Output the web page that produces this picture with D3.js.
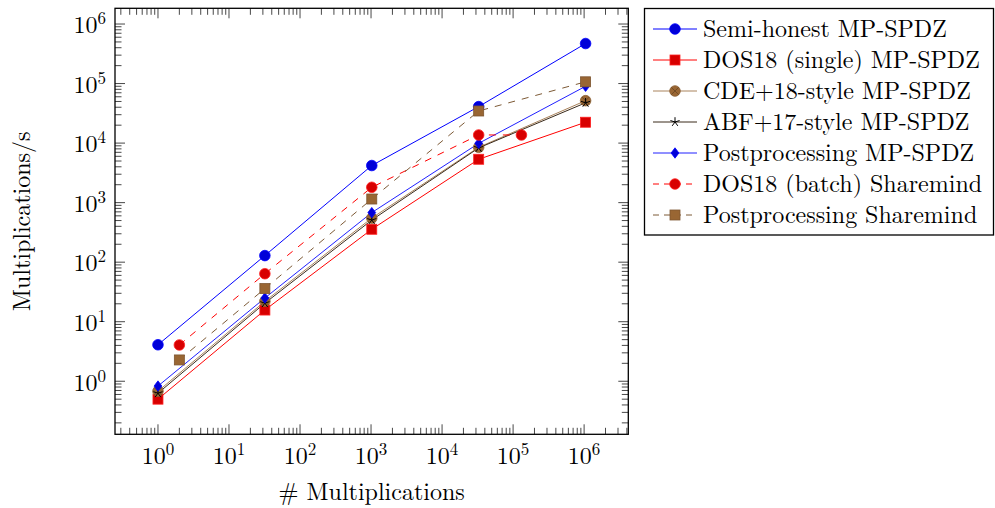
<!DOCTYPE html>
<html>
<head>
<meta charset="utf-8">
<script src="https://cdn.jsdelivr.net/npm/d3@7"></script>
<style>
  html, body { margin: 0; padding: 0; background: #fff; }
  svg { display: block; }
  text { font-family: "Latin Modern Roman", "CMU Serif", "Liberation Serif", serif; fill: #000; }
</style>
</head>
<body>
<svg id="chart" width="995" height="508"></svg>
<script>
// Problem sizes (number of multiplications)
const sizesMain = [1, 32, 1024, 32768, 1048576];
const sizesBatch = [2, 32, 1024, 32768, 131072];
const sizesPostSM = [2, 32, 1024, 32768, 1048576];

// Throughput, multiplications per second
const semiHonestMP = [4.1, 129, 4200, 41000, 470000];
const dos18SingleMP = [0.5, 15.7, 357, 5350, 22400];
const cde18MP = [0.68, 22, 550, 8500, 51600];
const abf17MP = [0.63, 20.5, 510, 8300, 47500];
const postprocMP = [0.83, 25, 680, 9900, 90000];
const dos18BatchSM = [4.07, 64, 1810, 13700, 13700];
const postprocSM = [2.28, 36, 1150, 34600, 107000];

const seriesNames = [
  "Semi-honest MP-SPDZ",
  "DOS18 (single) MP-SPDZ",
  "CDE+18-style MP-SPDZ",
  "ABF+17-style MP-SPDZ",
  "Postprocessing MP-SPDZ",
  "DOS18 (batch) Sharemind",
  "Postprocessing Sharemind"
];

const xLabel = "# Multiplications";
const yLabel = "Multiplications/s";
const xTickExps = [0, 1, 2, 3, 4, 5, 6];
const yTickExps = [0, 1, 2, 3, 4, 5, 6];

const series = [
  { name: seriesNames[0], xs: sizesMain, ys: semiHonestMP, line: "#0000ff", fill: "#0000d8", edge: "#0000ff", mark: "circle", dash: null },
  { name: seriesNames[1], xs: sizesMain, ys: dos18SingleMP, line: "#ff0000", fill: "#d80000", edge: "#ff2020", mark: "square", dash: null },
  { name: seriesNames[2], xs: sizesMain, ys: cde18MP, line: "#a9835c", fill: "#996633", edge: "#8a6034", mark: "otimes", dash: null },
  { name: seriesNames[3], xs: sizesMain, ys: abf17MP, line: "#3a2a1a", fill: "none", edge: "#000000", mark: "star", dash: null },
  { name: seriesNames[4], xs: sizesMain, ys: postprocMP, line: "#2020ff", fill: "#0000d8", edge: "#0000ff", mark: "diamond", dash: null },
  { name: seriesNames[5], xs: sizesBatch, ys: dos18BatchSM, line: "#ff0000", fill: "#d80000", edge: "#ff2020", mark: "circle", dash: "7,7" },
  { name: seriesNames[6], xs: sizesPostSM, ys: postprocSM, line: "#7d5a36", fill: "#996633", edge: "#7d5530", mark: "square", dash: "7,7" }
];

const svg = d3.select("#chart");

const plot = { left: 115, right: 628.3, top: 8.3, bottom: 434.3 };

const x = d3.scaleLog()
  .domain([Math.pow(10, -0.605), Math.pow(10, 6.622)])
  .range([plot.left, plot.right]);
const y = d3.scaleLog()
  .domain([Math.pow(10, -0.891), Math.pow(10, 6.264)])
  .range([plot.bottom, plot.top]);

const majorLen = 10, minorLen = 6.5;
const isMajor = v => Math.abs(Math.log10(v) - Math.round(Math.log10(v))) < 1e-9;

// Tick marks on all four sides, pointing inwards
const tickG = svg.append("g").attr("stroke", "#333").attr("stroke-width", 0.9);
x.ticks().forEach(v => {
  const px = x(v);
  if (px <= plot.left + 0.5 || px >= plot.right - 0.5) return;
  const len = isMajor(v) ? majorLen : minorLen;
  tickG.append("line").attr("x1", px).attr("x2", px).attr("y1", plot.bottom).attr("y2", plot.bottom - len);
  tickG.append("line").attr("x1", px).attr("x2", px).attr("y1", plot.top).attr("y2", plot.top + len);
});
y.ticks().forEach(v => {
  const py = y(v);
  if (py <= plot.top + 0.5 || py >= plot.bottom - 0.5) return;
  const len = isMajor(v) ? majorLen : minorLen;
  tickG.append("line").attr("y1", py).attr("y2", py).attr("x1", plot.left).attr("x2", plot.left + len);
  tickG.append("line").attr("y1", py).attr("y2", py).attr("x1", plot.right).attr("x2", plot.right - len);
});

// Tick labels as powers of ten
function powerLabel(sel, exp) {
  sel.append("tspan").text("10");
  sel.append("tspan").attr("dy", -9).attr("font-size", 17).text(exp);
}
xTickExps.forEach(e => {
  const t = svg.append("text")
    .attr("x", x(Math.pow(10, e)))
    .attr("y", 464)
    .attr("text-anchor", "middle")
    .attr("font-size", 24);
  powerLabel(t, e);
});
yTickExps.forEach(e => {
  const t = svg.append("text")
    .attr("x", 106)
    .attr("y", y(Math.pow(10, e)) + 9.3)
    .attr("text-anchor", "end")
    .attr("font-size", 24);
  powerLabel(t, e);
});

// Axis titles
svg.append("text")
  .attr("x", (plot.left + plot.right) / 2)
  .attr("y", 500)
  .attr("text-anchor", "middle")
  .attr("font-size", 24)
  .text(xLabel);
svg.append("text")
  .attr("transform", `translate(30,${(plot.top + plot.bottom) / 2}) rotate(-90)`)
  .attr("text-anchor", "middle")
  .attr("font-size", 24)
  .text(yLabel);

// Marker shapes
function drawMark(g, s, cx, cy) {
  const r = 5.3;
  if (s.mark === "circle") {
    g.append("circle").attr("cx", cx).attr("cy", cy).attr("r", r)
      .attr("fill", s.fill).attr("stroke", s.edge).attr("stroke-width", 0.8);
  } else if (s.mark === "square") {
    g.append("rect").attr("x", cx - 5).attr("y", cy - 5).attr("width", 10).attr("height", 10)
      .attr("fill", s.fill).attr("stroke", s.edge).attr("stroke-width", 0.8);
  } else if (s.mark === "otimes") {
    g.append("circle").attr("cx", cx).attr("cy", cy).attr("r", r)
      .attr("fill", s.fill).attr("stroke", s.edge).attr("stroke-width", 0.8);
    const d = r * 0.7071;
    g.append("path")
      .attr("d", `M${cx - d},${cy - d}L${cx + d},${cy + d}M${cx - d},${cy + d}L${cx + d},${cy - d}`)
      .attr("stroke", "#6a4522").attr("stroke-width", 0.8).attr("fill", "none");
  } else if (s.mark === "star") {
    let d = "";
    for (let i = 0; i < 5; i++) {
      const a = -Math.PI / 2 + i * 2 * Math.PI / 5;
      d += `M${cx},${cy}L${cx + 4.8 * Math.cos(a)},${cy + 4.8 * Math.sin(a)}`;
    }
    g.append("path").attr("d", d).attr("stroke", s.edge).attr("stroke-width", 1).attr("fill", "none");
  } else if (s.mark === "diamond") {
    g.append("path")
      .attr("d", `M${cx},${cy - 5.2}L${cx + 3.9},${cy}L${cx},${cy + 5.2}L${cx - 3.9},${cy}Z`)
      .attr("fill", s.fill).attr("stroke", s.edge).attr("stroke-width", 0.8);
  }
}

// All series lines first, then all markers on top
const line = d3.line().x(d => x(d[0])).y(d => y(d[1]));
const linesG = svg.append("g");
const marksG = svg.append("g");
series.forEach(s => {
  const pts = s.xs.map((v, i) => [v, s.ys[i]]);
  linesG.append("path").datum(pts).attr("d", line)
    .attr("fill", "none").attr("stroke", s.line).attr("stroke-width", 1)
    .attr("stroke-dasharray", s.dash);
});
series.forEach(s => {
  s.xs.forEach((v, i) => drawMark(marksG, s, x(v), y(s.ys[i])));
});

// Axis frame
svg.append("rect")
  .attr("x", plot.left).attr("y", plot.top)
  .attr("width", plot.right - plot.left).attr("height", plot.bottom - plot.top)
  .attr("fill", "none").attr("stroke", "#000").attr("stroke-width", 1.3);

// Legend
const legend = svg.append("g");
legend.append("rect")
  .attr("x", 644.5).attr("y", 8.5).attr("width", 349).attr("height", 226.5)
  .attr("fill", "#fff").attr("stroke", "#000").attr("stroke-width", 1.3);
series.forEach((s, i) => {
  const cy = 29 + i * 31;
  legend.append("line")
    .attr("x1", 653).attr("x2", 697).attr("y1", cy).attr("y2", cy)
    .attr("stroke", s.line).attr("stroke-width", 1)
    .attr("stroke-dasharray", s.dash ? "6,5" : null);
  drawMark(legend, s, 675, cy);
  legend.append("text")
    .attr("x", 703).attr("y", cy + 8)
    .attr("font-size", 24)
    .text(s.name);
});
</script>
</body>
</html>
